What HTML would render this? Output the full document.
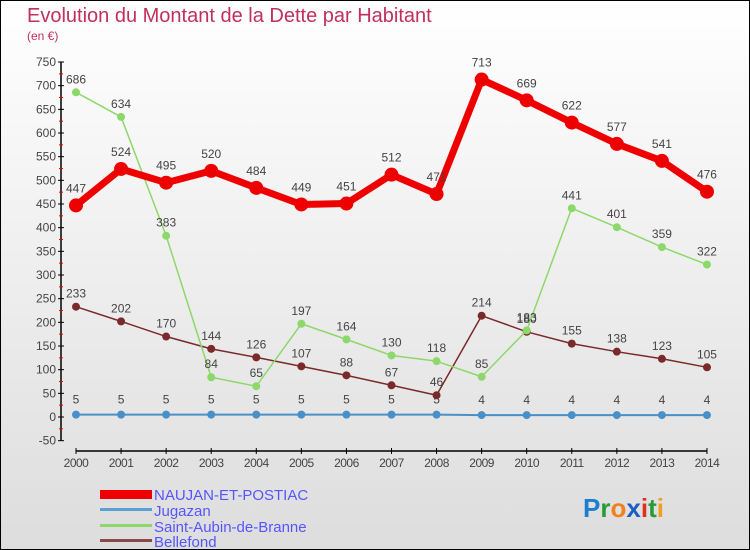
<!DOCTYPE html>
<html><head><meta charset="utf-8"><style>
body{margin:0}
#c{width:748px;height:548px;border:1px solid #000;background:linear-gradient(#fff,#ddd);position:relative;font-family:"Liberation Sans",sans-serif}
</style></head><body>
<div id="c">
<svg id="s" width="748" height="548" xmlns="http://www.w3.org/2000/svg" style="position:absolute;left:0;top:0">
<text x="26" y="21" font-size="20" fill="#c0305a">Evolution du Montant de la Dette par Habitant</text>
<text x="26" y="39" font-size="12" fill="#c0305a">(en €)</text>
<g id="g"></g>
<g>
<rect x="99" y="489" width="52" height="9" fill="#e00"/>
<text x="153" y="499" font-size="15" fill="#55f">NAUJAN-ET-POSTIAC</text>
<rect x="99" y="507" width="52" height="3" fill="#5aa0d0"/>
<text x="153" y="515" font-size="15" fill="#55f">Jugazan</text>
<rect x="99" y="523" width="52" height="3" fill="#8dd86a"/>
<text x="153" y="531" font-size="15" fill="#55f">Saint-Aubin-de-Branne</text>
<rect x="99" y="538" width="52" height="3" fill="#8a4a4a"/>
<text x="153" y="546" font-size="15" fill="#55f">Bellefond</text>
</g>
<text x="582" y="516" font-size="26" font-weight="bold"><tspan fill="#1a7fd0">P</tspan><tspan fill="#2a9a3a">r</tspan><tspan fill="#f08020">o</tspan><tspan fill="#1a5fc0">x</tspan><tspan fill="#e03020">i</tspan><tspan fill="#2a9a3a">t</tspan><tspan fill="#f0a020">i</tspan></text>
</svg></div>
<script>
const years=[2000,2001,2002,2003,2004,2005,2006,2007,2008,2009,2010,2011,2012,2013,2014];
const naujan=[447,524,495,520,484,449,451,512,471,713,669,622,577,541,476];
const jugazan=[5,5,5,5,5,5,5,5,5,4,4,4,4,4,4];
const saintAubin=[686,634,383,84,65,197,164,130,118,85,183,441,401,359,322];
const bellefond=[233,202,170,144,126,107,88,67,46,214,180,155,138,123,105];
const yTicks=[-50,0,50,100,150,200,250,300,350,400,450,500,550,600,650,700,750];
const NS="http://www.w3.org/2000/svg";
const g=document.getElementById('g');
const X=i=>75+i*45.07, Y=v=>416-v*0.47333;
function el(t,a,p){const e=document.createElementNS(NS,t);for(const k in a)e.setAttribute(k,a[k]);(p||g).appendChild(e);return e;}
let ax=el('line',{x1:60,y1:Y(750),x2:60,y2:Y(-50),stroke:'#000','stroke-width':1.5});


yTicks.forEach(v=>{el('line',{x1:57,x2:63,y1:Y(v),y2:Y(v),stroke:'#000'});
 if(v<750)el('line',{x1:58,x2:62,y1:Y(v+25),y2:Y(v+25),stroke:'#e00'});
 const t=el('text',{x:55,y:Y(v)+4,'text-anchor':'end','font-size':12,fill:'#444'});t.textContent=v;
 
 });
let xa=el('line',{x1:75,y1:450,x2:X(14),y2:450,stroke:'#000','stroke-width':1.5});


years.forEach((y,i)=>{el('line',{x1:X(i),x2:X(i),y1:447,y2:453,stroke:'#000'});
 const t=el('text',{x:X(i),y:466,'text-anchor':'middle','font-size':12,fill:'#444','letter-spacing':'-0.5'});t.textContent=y;
 
 });
function series(d,col,w,r,name,lab){
 const p=el('polyline',{points:d.map((v,i)=>X(i)+','+Y(v)).join(' '),fill:'none',stroke:col,'stroke-width':w,'stroke-linejoin':'round'});
 
 
 d.forEach((v,i)=>{const c=el('circle',{cx:X(i),cy:Y(v),r:r,fill:col});
  
  
  const t=el('text',{x:X(i),y:Y(v)-lab,'text-anchor':'middle','font-size':12,fill:'#444'});t.textContent=v;
  
  });
}
series(jugazan,'#4a90c8',2,4,'jugazan',11);
series(bellefond,'#7a2a2a',1.5,4,'bellefond',9);
series(saintAubin,'#8dd86a',1.5,4,'saint-aubin',9);
series(naujan,'#e00',7,7,'naujan',13);
</script>
</body></html>
